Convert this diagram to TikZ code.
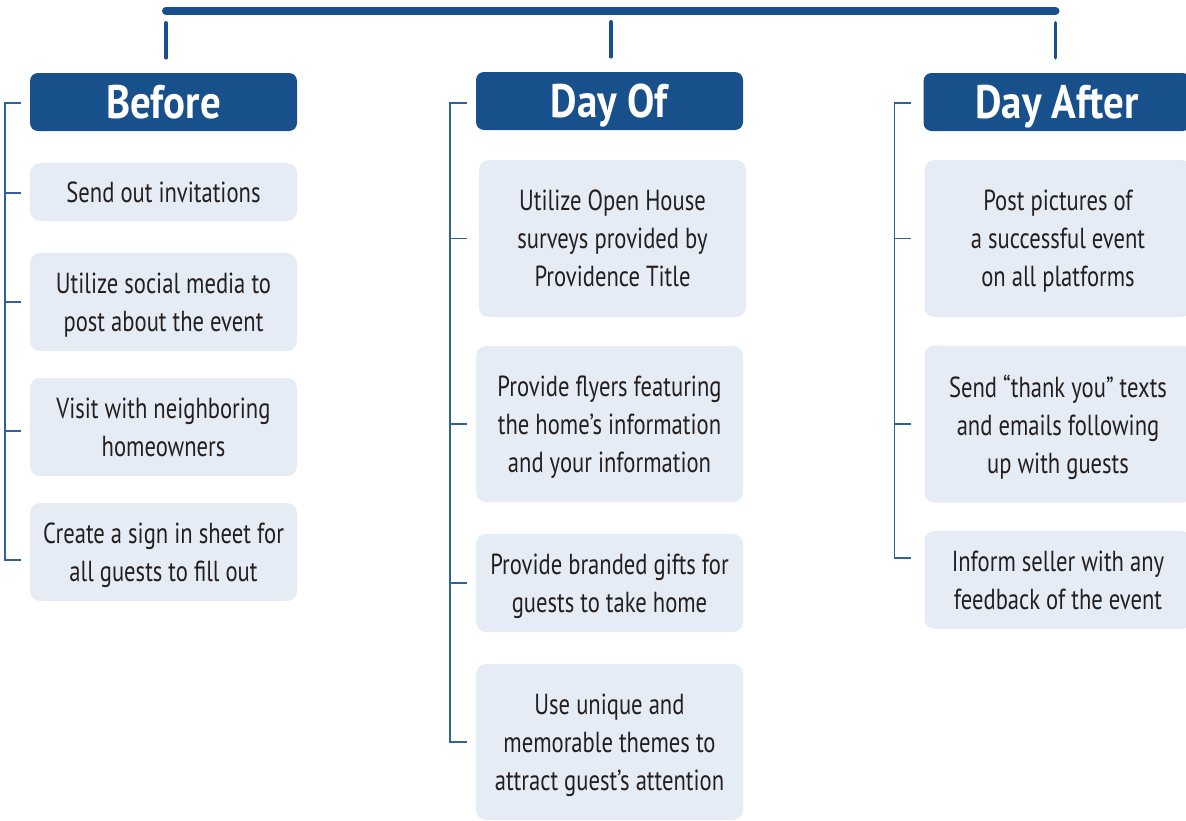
\documentclass[tikz,border=0pt]{standalone}
\usepackage{fontspec}
\setmainfont{PT Sans}[FakeStretch=0.78]
\newfontfamily\headfont{PT Sans}[FakeStretch=0.87]
\definecolor{hdrblue}{HTML}{18508C}
\definecolor{linkblue}{HTML}{2F619F}
\definecolor{boxfill}{HTML}{E6ECF6}
\definecolor{txtgray}{HTML}{231F20}
\tikzset{
	header/.style={fill=hdrblue, rounded corners=8pt, minimum width=267pt, minimum height=58pt, inner sep=0pt, text=white, text height=33pt, text depth=0pt, font=\headfont\fontsize{47}{47}\selectfont\bfseries},
	item/.style={fill=boxfill, rounded corners=10pt, minimum width=267pt, minimum height=#1, inner sep=0pt, text=txtgray, align=center, text depth=0pt, font=\fontsize{29}{38}\selectfont},
	spine/.style={linkblue, line width=1.6pt},
	bar/.style={hdrblue, line width=8pt, line cap=round},
	drop/.style={hdrblue, line width=3.5pt, line cap=round}
}

\begin{document}
\begin{tikzpicture}[x=1pt, y=-1pt]
	 		\useasboundingbox (0,0) rectangle (1186,820);
	 		\clip (0,0) rectangle (1186,820);
	 		\node[header] (before) at (163.5,102) {Before};
	 		\node[header] (dayof) at (609.5,101) {Day Of};
	 		\node[header] (dayafter) at (1057,102) {Day After};
	 		\node[item=58pt] (b1) at (163.5,192) {Send out invitations};
	 		\node[item=98pt] (b2) at (163.5,302) {Utilize social media to\\post about the event};
	 		\node[item=98pt] (b3) at (163.5,427) {Visit with neighboring\\homeowners};
	 		\node[item=98pt] (b4) at (163.5,552) {Create a sign in sheet for\\all guests to fill out};
	 		\node[item=157pt] (d1) at (612.5,238.5) {Utilize Open House\\surveys provided by\\Providence Title};
	 		\node[item=156pt] (d2) at (609.5,424) {Provide flyers featuring\\the home’s information\\and your information};
	 		\node[item=98pt] (d3) at (609.5,583) {Provide branded gifts for\\guests to take home};
	 		\node[item=156pt] (d4) at (609.5,742) {Use unique and\\memorable themes to\\attract guest’s attention};
	 		\node[item=157pt] (a1) at (1058,238.5) {Post pictures of\\a successful event\\on all platforms};
	 		\node[item=157pt] (a2) at (1058,424) {Send “thank you” texts\\and emails following\\up with guests};
	 		\node[item=98pt] (a3) at (1058,580) {Inform seller with any\\feedback of the event};
	 		\foreach \n/\dx in {before/2.5, dayof/1.5, dayafter/-1.5}
	 			\draw[drop] ([xshift=\dx pt, yshift=15pt]\n.north) -- ([xshift=\dx pt, yshift=50pt]\n.north);
	 		\draw[bar] ([xshift=2.5pt, yshift=62pt]before.north) -- ([xshift=-1.5pt, yshift=62pt]before.north -| dayafter.north);
	 		\draw[spine] ([xshift=-9pt, yshift=-1pt]before.west) -- ++(-16,0) |- ([xshift=-9pt, yshift=-8pt]b4.west);
	 		\foreach \n/\dy in {b1/-1, b2/0, b3/-4}
	 			\draw[spine] ([xshift=-9pt, yshift=\dy pt]\n.west) -- ++(-16,0);
	 		\draw[spine] ([xshift=-9pt, yshift=-2pt]dayof.west) -- ++(-17,0) |- ([xshift=-9pt]d4.west);
	 		\foreach \n/\g in {d1/12, d2/9, d3/9}
	 			\draw[spine] ([xshift=-\g pt]\n.west) -- ++(-17,0);
	 		\draw[spine] ([xshift=-12pt, yshift=-1pt]dayafter.west) -- ++(-17,0) |- ([xshift=-13pt, yshift=22pt]a3.west);
	 		\foreach \n in {a1, a2}
	 			\draw[spine] ([xshift=-13pt]\n.west) -- ++(-17,0);
	 	\end{tikzpicture}
\end{document}
